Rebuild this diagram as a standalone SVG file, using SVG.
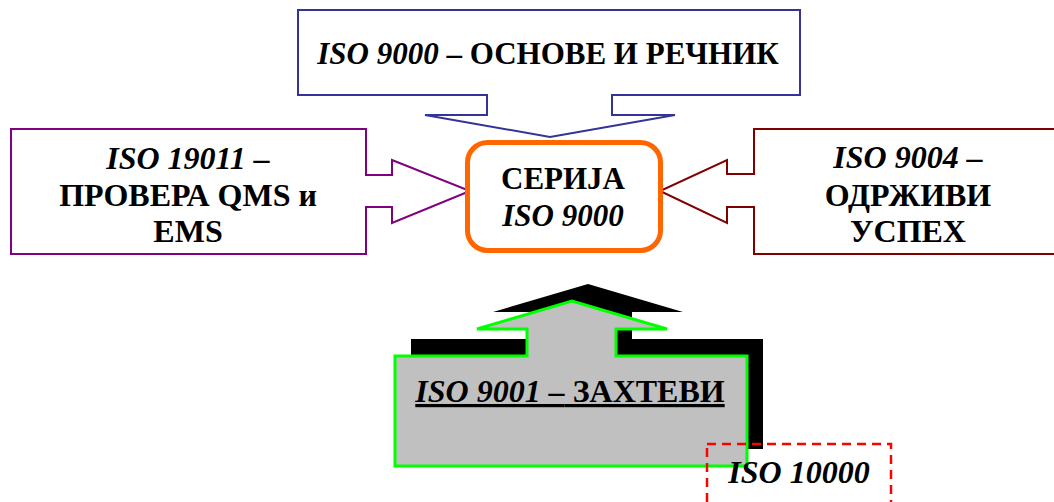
<svg xmlns="http://www.w3.org/2000/svg" xmlns:xlink="http://www.w3.org/1999/xlink" width="1054" height="502" viewBox="0 0 1054 502">
<style>
text{font-family:"Liberation Serif","Times New Roman","DejaVu Serif",serif;font-weight:bold;fill:#000;text-anchor:middle}
.it{font-style:italic}
.co{fill:#fff;stroke-width:2;stroke-linejoin:miter}
</style>
<defs>
<path id="reqShape" d="M395,356 H527 V329 H477 L572,301 L667,329 H616 V356 H747 V466 H395 Z"/>
</defs>
<g id="connectors"></g>
<g id="iso9000-basics">
<path class="co" stroke="#333399" d="M298,10 H800 V95 H612 V115 H675 L550,137 L425,115 H487 V95 H298 Z"/>
<text x="548" y="64" font-size="31"><tspan class="it">ISO 9000</tspan> – ОСНОВЕ И РЕЧНИК</text>
</g>
<g id="iso19011">
<path class="co" stroke="#800080" d="M11,129 H366 V175 H392 V160 L470,191 L392,223 V207 H366 V254 H11 Z"/>
<text font-size="32"><tspan x="188" y="169" class="it">ISO 19011 –</tspan><tspan x="188" y="206">ПРОВЕРА QMS и</tspan><tspan x="188" y="242">EMS</tspan></text>
</g>
<g id="iso9004">
<path class="co" stroke="#800000" d="M1060,129 H754 V174 H727 V160 L660,191 L727,223 V207 H754 V254 H1060 Z"/>
<text font-size="32"><tspan x="908" y="168" class="it">ISO 9004 –</tspan><tspan x="908" y="206">ОДРЖИВИ</tspan><tspan x="908" y="242">УСПЕХ</tspan></text>
</g>
<g id="series">
<rect x="467.5" y="142.5" width="193" height="108" rx="20" fill="#fff" stroke="#FF6600" stroke-width="5"/>
<text x="563" y="189" font-size="31">СЕРИЈА</text>
<text x="563" y="226" font-size="31" class="it">ISO 9000</text>
</g>
<g id="iso9001">
<use xlink:href="#reqShape" transform="translate(16,-17)" fill="#000"/>
<use xlink:href="#reqShape" fill="#C0C0C0" stroke="#00FF00" stroke-width="3"/>
<text x="570" y="402" font-size="32" text-decoration="underline"><tspan class="it">ISO 9001 –</tspan> ЗАХТЕВИ</text>
</g>
<g id="iso10000">
<rect x="707" y="444" width="184" height="70" fill="none" stroke="#FF0000" stroke-width="2.5" stroke-dasharray="9,6"/>
<text x="799" y="483" font-size="32" class="it">ISO 10000</text>
</g>
</svg>
